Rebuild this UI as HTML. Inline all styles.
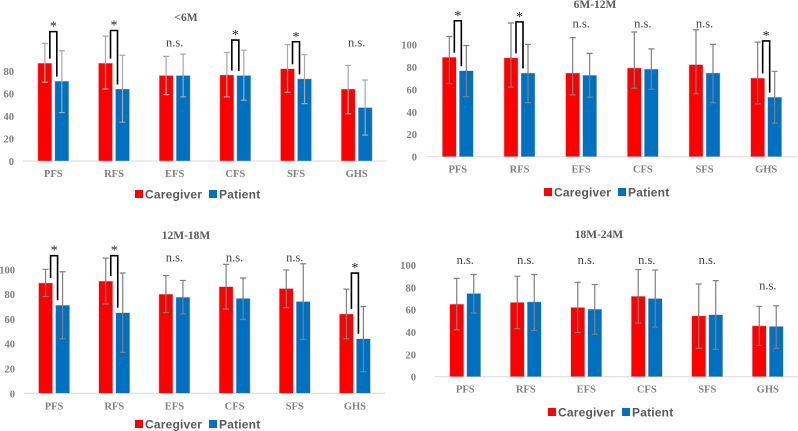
<!DOCTYPE html>
<html><head><meta charset="utf-8">
<style>
html,body{margin:0;padding:0;background:#fff;}
svg{display:block;}
text{font-family:"Liberation Serif",serif;}
.lg{font-family:"Liberation Sans",sans-serif;font-weight:bold;font-size:12px;fill:#595959;letter-spacing:0.2px;}
</style></head>
<body>
<svg id="chart" width="798" height="431" viewBox="0 0 798 431" xmlns="http://www.w3.org/2000/svg"></svg>
<script>
const categories = ["PFS","RFS","EFS","CFS","SFS","GHS"];
const panelTitles = ["<6M","6M-12M","12M-18M","18M-24M"];
const caregiverMeans = [
  [87,87,76,76.5,82,64],
  [88.5,88,74.5,79,82,70],
  [89,90.5,80,86,84.5,64],
  [65,66.5,62,72,54.5,45.5]];
const caregiverHi = [
  [104.5,111,93,96.5,103.5,85],
  [107,119,106,111,113,102],
  [100,109,95,104,99.5,84],
  [88,90,84.5,96,83,63]];
const caregiverLo = [
  [70,64,59,57,61,42],
  [65,62,55,61,56,47],
  [78,72,65,68,69,44],
  [42,43,39.5,48,25.5,28]];
const patientMeans = [
  [71,64,76,76,73,47.5],
  [76.5,74.5,72.5,78,74.5,53],
  [71,65,77.5,76.5,74,44],
  [74.5,67,60.5,70,55.5,45]];
const patientHi = [
  [98,94,95,98.5,94.5,72],
  [99,100,92,96,100,76],
  [98,97,91,93,104.5,70],
  [91.5,91.5,82.5,95.5,86,63.5]];
const patientLo = [
  [43,34.5,57,54,51,23],
  [53.5,48,53,60,48,30],
  [44,33,64,59.5,43.5,17.5],
  [57,41.5,38,44.5,24.5,25.5]];
const sigLabels = [
  ["*","*","n.s.","*","*","n.s."],
  ["*","*","n.s.","n.s.","n.s.","*"],
  ["*","*","n.s.","n.s.","n.s.","*"],
  ["n.s.","n.s.","n.s.","n.s.","n.s.","n.s."]];
const sigLevel = [
  [115,116,106,107.5,106,106],
  [121,120,119,119,119,103],
  [111,111,110,110,110,97],
  [105,105,105,105,105,82]];
const yTicks = [[0,20,40,60,80],[0,20,40,60,80,100],[0,20,40,60,80,100],[0,20,40,60,80,100]];

// layout (not data)
const panels = [
  {x0:23,x1:387,base:161,ppu:1.125,tickX:14,titleX:186,titleY:21,legY:194,legX:135,err:'#a8a8a8'},
  {x0:427,x1:797,base:156.7,ppu:1.1235,tickX:417,titleX:595,titleY:8,legY:192,legX:544,err:'#808080'},
  {x0:24,x1:385,base:393.3,ppu:1.24,tickX:15,titleX:186,titleY:239,legY:424,legX:135,err:'#808080'},
  {x0:435,x1:798,base:376.7,ppu:1.117,tickX:416,titleX:599,titleY:238,legY:412,legX:548,err:'#808080'}];

const NS="http://www.w3.org/2000/svg";
const svg=document.getElementById('chart');
function mk(tag,attrs,parent){const e=document.createElementNS(NS,tag);for(const k in attrs)e.setAttribute(k,attrs[k]);(parent||svg).appendChild(e);return e;}

panels.forEach((p,pi)=>{
  const g=mk('g',{});
  
  
  const band=(p.x1-p.x0)/categories.length;
  const xC=i=>p.x0+(i+0.5)*band;
  const yV=v=>p.base-v*p.ppu;
  const t=mk('text',{x:p.titleX,y:p.titleY,'text-anchor':'middle','font-size':'11.5','font-weight':'bold',fill:'#595959'},g);
  t.textContent=panelTitles[pi];
  
  
  yTicks[pi].forEach(v=>{
    const tt=mk('text',{x:p.tickX,y:yV(v)+4,'text-anchor':'end','font-size':'10.5','font-weight':'bold',fill:'#7f7f7f'},g);
    tt.textContent=v;
    
    
  });
  const ax=mk('line',{x1:p.x0,x2:p.x1,y1:p.base,y2:p.base,stroke:'#d9d9d9','stroke-width':1},g);
  
  
  categories.forEach((c,i)=>{
    const cx=xC(i);
    const series=[[caregiverMeans,caregiverHi,caregiverLo,'#ff0000',cx-15.5,'caregiver'],[patientMeans,patientHi,patientLo,'#0070c0',cx+1.5,'patient']];
    series.forEach(s=>{
      const v=s[0][pi][i];
      const r=mk('rect',{x:s[4],y:yV(v),width:14,height:v*p.ppu,fill:s[3],stroke:'#c8c8c8','stroke-width':0.5},g);
      
      
      const ex=s[4]+7;
      const e=mk('path',{d:`M${ex},${yV(s[1][pi][i])}V${yV(s[2][pi][i])}M${ex-3},${yV(s[1][pi][i])}H${ex+3}M${ex-3},${yV(s[2][pi][i])}H${ex+3}`,stroke:p.err,'stroke-width':1.2,fill:'none'},g);
      
      
    });
    const lab=sigLabels[pi][i];
    const top=yV(sigLevel[pi][i]);
    if(lab==='*'){
      const lx=cx-3.5, rx=cx+3.5;
      const br=mk('path',{d:`M${lx},${yV(caregiverMeans[pi][i]+4)}V${top}H${rx}V${yV(patientMeans[pi][i]+4)}`,stroke:'#000','stroke-width':1.6,fill:'none'},g);
      
      
      const st=mk('text',{x:cx,y:top-1,'text-anchor':'middle','font-size':'14',fill:'#222'},g);
      st.textContent='*';
      
      
    } else {
      const ns=mk('text',{x:cx,y:top+4.5,'text-anchor':'middle','font-size':'12.5',fill:'#404040'},g);
      ns.textContent=lab;
      
      
    }
    const cl=mk('text',{x:cx,y:p.base+16,'text-anchor':'middle','font-size':'10.5','font-weight':'bold',fill:'#7f7f7f'},g);
    cl.textContent=c;
    
    
  });
  const lg=mk('g',{},g);
  
  
  const r1=mk('rect',{x:p.legX,y:p.legY-4,width:8,height:8,fill:'#ff0000'},lg);
  
  
  const t1=mk('text',{x:p.legX+10,y:p.legY+4.5,class:'lg'},lg);
  t1.textContent='Caregiver';
  
  
  const r2=mk('rect',{x:p.legX+74,y:p.legY-4,width:8,height:8,fill:'#0070c0'},lg);
  
  
  const t2=mk('text',{x:p.legX+84,y:p.legY+4.5,class:'lg'},lg);
  t2.textContent='Patient';
  
  
});
</script>
</body></html>
